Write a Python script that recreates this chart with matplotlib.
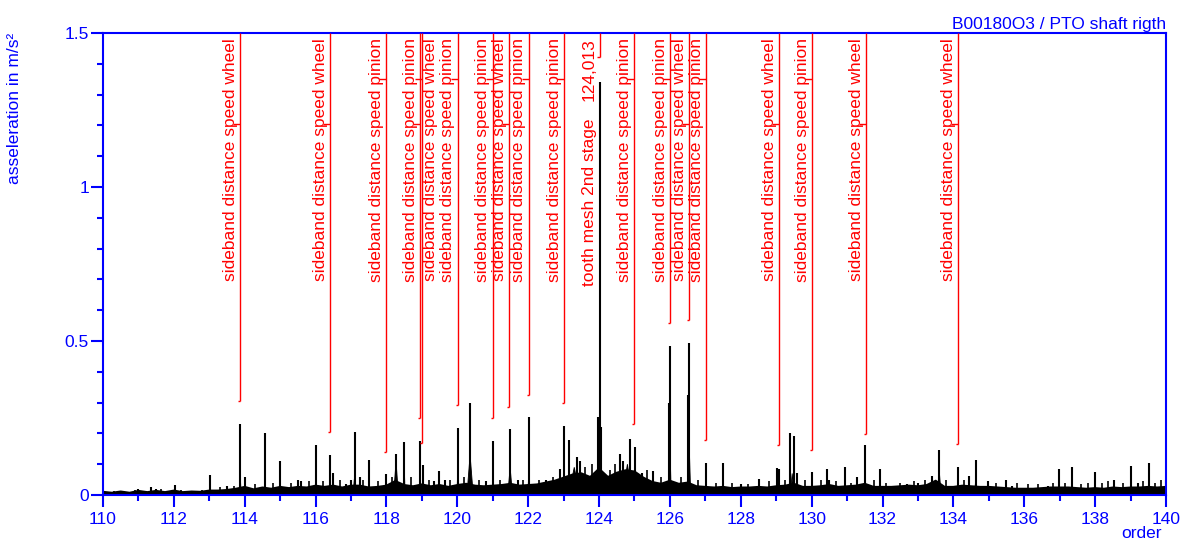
import numpy as np
import matplotlib.pyplot as plt
from matplotlib.ticker import MultipleLocator, FuncFormatter
from matplotlib.transforms import blended_transform_factory

plt.rcParams['font.family'] = ['Liberation Sans', 'DejaVu Sans']

BLUE = '#0000ff'
RED = '#ff0000'

# noise floor of the order spectrum, one value every 0.25 order
floor_orders = np.arange(110, 140.001, 0.25)
floor_levels = [
    0.010, 0.007, 0.011, 0.007, 0.013,
    0.009, 0.013, 0.009, 0.014,
    0.009, 0.011, 0.010, 0.014,
    0.014, 0.016, 0.020, 0.026,
    0.018, 0.024, 0.020, 0.026,
    0.022, 0.026, 0.024, 0.030,
    0.026, 0.030, 0.024, 0.030,
    0.030, 0.024, 0.026, 0.030,
    0.045, 0.032, 0.028, 0.034,
    0.028, 0.032, 0.026, 0.032,
    0.036, 0.030, 0.028, 0.030,
    0.032, 0.036, 0.030, 0.032,
    0.034, 0.040, 0.046, 0.056,
    0.066, 0.070, 0.058, 0.085,
    0.058, 0.072, 0.080, 0.076,
    0.056, 0.042, 0.036, 0.046,
    0.036, 0.040, 0.028, 0.026,
    0.024, 0.026, 0.022, 0.024,
    0.024, 0.026, 0.024, 0.028,
    0.030, 0.036, 0.026, 0.026,
    0.028, 0.032, 0.026, 0.028,
    0.030, 0.036, 0.026, 0.026,
    0.026, 0.028, 0.030, 0.028,
    0.032, 0.046, 0.026, 0.026,
    0.030, 0.028, 0.026, 0.026,
    0.024, 0.022, 0.020, 0.020,
    0.020, 0.022, 0.024, 0.024,
    0.024, 0.022, 0.020, 0.022,
    0.020, 0.024, 0.022, 0.024,
    0.024, 0.026, 0.024, 0.026,
]

# discrete order lines (order, amplitude in m/s^2)
peak_orders = [
    111.00, 111.35, 111.50, 112.03, 113.02, 113.50, 113.87, 114.00, 114.57,
    115.00, 115.50, 115.60, 116.01, 116.41, 116.50, 116.85, 117.00, 117.10,
    117.25, 117.52, 118.00, 118.27, 118.50, 118.95, 119.02, 119.35, 119.49,
    119.66, 120.01, 120.36, 120.80, 121.01, 121.49, 121.70, 122.02, 122.50,
    122.90, 123.00, 123.15, 123.37, 123.46, 123.96, 124.013, 124.06, 124.59,
    124.68, 124.87, 125.01, 125.20, 125.53, 125.96, 126.01, 126.52, 126.55,
    127.02, 127.51, 128.00, 128.52, 129.01, 129.08, 129.39, 129.51, 129.60,
    130.01, 130.42, 130.50, 130.93, 131.29, 131.51, 131.93, 132.30, 132.70,
    133.01, 133.40, 133.60, 134.14, 134.45, 134.63, 134.97, 135.48, 135.66,
    136.66, 136.99, 137.34, 138.00, 138.52, 139.02, 139.20, 139.53, 140.00,
]
peak_levels = [
    0.020, 0.027, 0.020, 0.032, 0.065, 0.030, 0.230, 0.060, 0.200,
    0.110, 0.050, 0.045, 0.162, 0.130, 0.070, 0.035, 0.050, 0.205,
    0.060, 0.114, 0.068, 0.133, 0.171, 0.174, 0.097, 0.045, 0.079,
    0.050, 0.218, 0.300, 0.045, 0.174, 0.214, 0.050, 0.253, 0.050,
    0.083, 0.225, 0.178, 0.124, 0.110, 0.254, 1.340, 0.220, 0.133,
    0.110, 0.183, 0.157, 0.070, 0.079, 0.300, 0.484, 0.325, 0.494,
    0.105, 0.105, 0.036, 0.052, 0.087, 0.085, 0.200, 0.190, 0.070,
    0.074, 0.084, 0.050, 0.091, 0.058, 0.161, 0.084, 0.030, 0.035,
    0.040, 0.062, 0.146, 0.092, 0.063, 0.114, 0.045, 0.049, 0.030,
    0.030, 0.083, 0.092, 0.076, 0.049, 0.095, 0.040, 0.105, 0.049,
]

# small lines riding on the noise floor
ripple_orders = [
    110.30, 110.50, 110.90, 111.20, 111.65, 111.80, 112.20, 112.50, 112.80,
    113.30, 113.70, 114.30, 114.80, 115.30, 115.80, 116.20, 116.70, 117.35,
    117.75, 118.15, 118.70, 119.20, 119.80, 120.20, 120.60, 121.20, 121.85,
    122.30, 122.70, 123.60, 123.80, 124.30, 124.45, 125.35, 125.75, 126.30,
    126.80, 127.30, 127.75, 128.20, 128.80, 129.25, 129.80, 130.25, 130.70,
    131.10, 131.75, 132.10, 132.50, 132.90, 133.20, 133.80, 134.30, 135.20,
    135.80, 136.10, 136.40, 136.80, 137.15, 137.60, 137.80, 138.20, 138.35,
    138.80, 139.35, 139.70, 139.85,
]
ripple_levels = [
    0.012, 0.013, 0.015, 0.012, 0.018, 0.012, 0.015, 0.012, 0.015,
    0.025, 0.030, 0.035, 0.040, 0.040, 0.045, 0.045, 0.050, 0.050,
    0.045, 0.060, 0.060, 0.050, 0.050, 0.060, 0.050, 0.050, 0.050,
    0.050, 0.060, 0.090, 0.100, 0.080, 0.100, 0.080, 0.060, 0.060,
    0.050, 0.040, 0.040, 0.035, 0.045, 0.050, 0.050, 0.050, 0.045,
    0.040, 0.050, 0.040, 0.040, 0.045, 0.050, 0.050, 0.050, 0.040,
    0.040, 0.035, 0.035, 0.040, 0.040, 0.035, 0.040, 0.040, 0.045,
    0.040, 0.045, 0.040, 0.050,
]

# broad skirts at the foot of the stronger lines
skirt_orders = [113.87, 114.57, 116.01, 117.10, 118.27, 118.50, 118.95, 120.01,
                120.36, 121.49, 122.02, 123.30, 124.00, 124.80, 126.01, 126.55,
                129.45, 131.51, 133.60, 134.63]
skirt_levels = [0.08, 0.05, 0.05, 0.06, 0.11, 0.10, 0.08, 0.07,
                0.13, 0.09, 0.07, 0.09, 0.25, 0.10, 0.12, 0.14,
                0.07, 0.06, 0.08, 0.05]
skirt_halfwidths = [0.06, 0.08, 0.06, 0.10, 0.15, 0.06, 0.06, 0.05,
                    0.20, 0.15, 0.08, 0.35, 0.12, 0.30, 0.06, 0.08,
                    0.12, 0.08, 0.12, 0.08]

# cursor marks: line order, lower end of the red line, text, text position
mark_orders = [113.87, 116.41, 118.00, 118.94, 119.00, 120.01, 121.00, 121.47,
               122.02, 123.01, 124.013, 125.00, 126.01, 126.55, 127.02, 129.08,
               130.02, 131.54, 134.14]
mark_bottoms = [0.305, 0.203, 0.141, 0.249, 0.170, 0.292, 0.249, 0.287,
                0.325, 0.298, 1.423, 0.230, 0.557, 0.567, 0.178, 0.161,
                0.146, 0.198, 0.165]
mark_texts = [
    'sideband distance speed wheel', 'sideband distance speed wheel',
    'sideband distance speed pinion', 'sideband distance speed wheel',
    'sideband distance speed pinion', 'sideband distance speed pinion',
    'sideband distance speed pinion', 'sideband distance speed wheel',
    'sideband distance speed pinion', 'sideband distance speed pinion',
    'tooth mesh 2nd stage', 'sideband distance speed pinion',
    'sideband distance speed pinion', 'sideband distance speed wheel',
    'sideband distance speed pinion', 'sideband distance speed wheel',
    'sideband distance speed pinion', 'sideband distance speed wheel',
    'sideband distance speed wheel',
]
mark_text_orders = [113.80, 116.34, 117.93, 119.46, 118.90, 119.94, 120.93, 121.40,
                    121.95, 122.94, 123.93, 124.93, 125.94, 126.48, 126.95, 129.01,
                    129.95, 131.47, 134.07]
mesh_value = '124,013'
# height of the small leader tick beside each sideband text
leader_levels = {'wheel': 1.205, 'pinion': 1.351}

fig = plt.figure(figsize=(11.82, 5.39), dpi=100)
ax = fig.add_axes([103 / 1182, 44 / 539, 1063 / 1182, 462 / 539])

# spectrum
ax.fill_between(floor_orders, 0, floor_levels, color='k', lw=0.8)
ax.plot(floor_orders, floor_levels, color='k', lw=1.6)
for c, h, w in zip(skirt_orders, skirt_levels, skirt_halfwidths):
    ax.fill([c - w, c - w / 3, c, c + w / 3, c + w], [0, h / 4, h, h / 4, 0],
            color='k', lw=0.6)
ax.vlines(ripple_orders, 0, ripple_levels, color='k', lw=1.2)
ax.vlines(peak_orders, 0, peak_levels, color='k', lw=1.5)

# cursor marks
ax.vlines(mark_orders, mark_bottoms, 1.5, color=RED, lw=1.0, zorder=3)
ax.hlines(mark_bottoms, np.array(mark_orders) - 0.06, mark_orders, color=RED, lw=1.0)
trans = blended_transform_factory(ax.transData, ax.transAxes)
for xo, lo, txt in zip(mark_text_orders, mark_orders, mark_texts):
    top = 0.816 if txt.startswith('tooth') else 0.989
    ax.text(xo, top, txt, rotation=90, ha='right', va='top', transform=trans,
            color=RED, fontsize=12.5)
    last = txt.split()[-1]
    if last in leader_levels:
        ax.hlines(leader_levels[last], lo - 0.2, lo, color=RED, lw=1.0)
ax.text(mark_text_orders[10], 0.989, mesh_value, rotation=90, ha='right', va='top',
        transform=trans, color=RED, fontsize=12.5)

ax.set_xlim(110, 140)
ax.set_ylim(0, 1.5)
ax.xaxis.set_major_locator(MultipleLocator(2))
ax.xaxis.set_minor_locator(MultipleLocator(1))
ax.yaxis.set_major_locator(MultipleLocator(0.5))
ax.yaxis.set_minor_locator(MultipleLocator(0.1))
ax.yaxis.set_major_formatter(FuncFormatter(lambda v, p: '%g' % v))

for s in ax.spines.values():
    s.set_color(BLUE)
    s.set_linewidth(1.5)
ax.tick_params(which='both', colors=BLUE, width=1.5, labelsize=12.5)
ax.tick_params(which='major', length=8.5)
ax.tick_params(which='minor', length=4.5)
ax.tick_params(axis='x', pad=4)
ax.tick_params(axis='y', pad=1.5)

ax.set_title('B00180O3 / PTO shaft rigth', loc='right', color=BLUE, fontsize=12.5, pad=3)
ax.set_ylabel('asseleration in m/s²', loc='top', color=BLUE, fontsize=12.5)
ax.yaxis.set_label_coords(-0.076, 1.0)
ax.set_xlabel('order', loc='right', color=BLUE, fontsize=12.5)
ax.xaxis.set_label_coords(0.996, -0.067)

fig.savefig('out.png', dpi=100)
